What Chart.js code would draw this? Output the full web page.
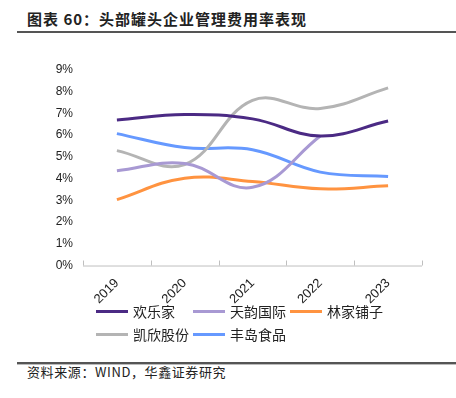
<!DOCTYPE html>
<html><head><meta charset="utf-8">
<script src="https://cdn.jsdelivr.net/npm/chart.js@4"></script>
<style>
html,body{margin:0;padding:0;background:#fff;width:456px;height:398px;overflow:hidden;position:relative;font-family:"Noto Sans CJK SC",sans-serif;}
#title{position:absolute;left:27px;top:8px;font-size:15px;font-weight:bold;color:#222;letter-spacing:1px;white-space:nowrap;}
#rule1{position:absolute;left:17px;right:0;top:31px;height:2px;background:#555;}
#rule2{position:absolute;left:17px;right:0;top:362px;height:2px;background:#555;}
#rule2b{position:absolute;left:17px;right:0;top:364px;height:1px;background:#bbb;}
#src{position:absolute;left:27px;top:362px;font-size:13px;color:#222;white-space:nowrap;letter-spacing:0.6px;}
#wrap{position:absolute;left:0;top:40px;width:456px;height:269px;}
#legend{position:absolute;left:96px;top:301px;width:340px;}
.li{position:absolute;display:flex;align-items:center;font-size:14px;color:#222;white-space:nowrap;}
.li span.sw{display:inline-block;width:32px;height:3px;margin-right:5px;}
</style></head><body>
<div id="title">图表 60：头部罐头企业管理费用率表现</div>
<div id="rule1"></div>
<div id="wrap"><canvas id="c" width="456" height="269"></canvas></div>
<div id="legend"></div>
<div id="rule2"></div><div id="rule2b"></div>
<div id="src">资料来源：WIND，华鑫证券研究</div>
<script>
const categories = ["2019","2020","2021","2022","2023"];
const seriesNames = ["欢乐家","天韵国际","林家铺子","凯欣股份","丰岛食品"];
const huanlejia = [6.70, 6.95, 6.75, 5.96, 6.65];
const tianyun   = [4.36, 4.70, 3.60, 5.96, null];
const linjia    = [3.03, 4.02, 3.87, 3.53, 3.67];
const kaixin    = [5.29, 4.65, 7.60, 7.23, 8.18];
const fengdao   = [6.07, 5.43, 5.33, 4.30, 4.10];
const yTicks = ["0%","1%","2%","3%","4%","5%","6%","7%","8%","9%"];
const colors = ["#4B2A84","#A899D3","#FF9340","#B4B4B4","#6699FF"];
const seriesData = [huanlejia, tianyun, linjia, kaixin, fengdao];

const axisTicks = {
  id:'axisTicks',
  afterDraw(chart){
    const x = chart.scales.x, ctx = chart.ctx;
    const y0 = chart.scales.y.getPixelForValue(0);
    ctx.save();
    ctx.strokeStyle = '#BFBFBF'; ctx.lineWidth = 1;
    ctx.beginPath();
    ctx.moveTo(x.left, y0+0.5); ctx.lineTo(x.right, y0+0.5);
    const n = categories.length;
    for(let i=0;i<=n;i++){
      const px = Math.round(x.left + (x.right-x.left)*i/n)+0.5;
      ctx.moveTo(px, y0); ctx.lineTo(px, y0-5);
    }
    ctx.stroke();
    ctx.restore();
  }
};

const chart = new Chart(document.getElementById('c'), {
  type:'line',
  data:{
    labels: categories,
    datasets: seriesNames.map((n,i)=>({
      label:n, data:seriesData[i], borderColor:colors[i], backgroundColor:colors[i],
      borderWidth:3, pointRadius:0, tension:0.4, fill:false, spanGaps:false
    }))
  },
  options:{
    responsive:false, animation:false,
    layout:{padding:{left:0,right:34,top:30,bottom:0}},
    plugins:{legend:{display:false}, tooltip:{enabled:false}},
    scales:{
      x:{offset:true, grid:{display:false}, border:{display:false},
         ticks:{maxRotation:45,minRotation:45,color:'#222',padding:2,
                font:{family:'"Liberation Sans", Arial, sans-serif',size:13}}},
      y:{min:0,max:9, grid:{display:false}, border:{display:false},
         afterFit(s){ s.width = 83; },
         ticks:{stepSize:1,color:'#222',padding:2,
                font:{family:'"Liberation Sans", Arial, sans-serif',size:12},
                callback:(v)=>yTicks[v]}}
    }
  },
  plugins:[axisTicks]
});

const lg = document.getElementById('legend');
const pos = [[0,0],[97,0],[194,0],[0,23],[97,23]];
chart.data.datasets.forEach((d,i)=>{
  const el = document.createElement('div');
  el.className='li';
  el.style.left = pos[i][0]+'px'; el.style.top = pos[i][1]+'px';
  el.innerHTML = '<span class="sw" style="background:'+d.borderColor+'"></span>'+d.label;
  lg.appendChild(el);
});
</script>
</body></html>
